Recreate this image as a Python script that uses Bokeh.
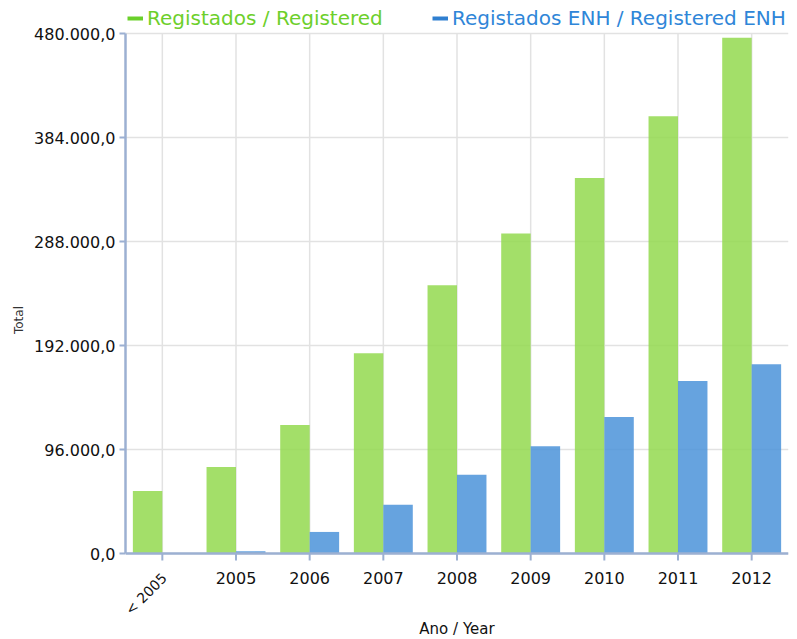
from bokeh.plotting import figure
from bokeh.models import (ColumnDataSource, FixedTicker, CustomJSTickFormatter, Legend,
                          LegendItem, Range1d, FactorRange, Span)
from bokeh.core.properties import value
from bokeh.embed import file_html
from bokeh.resources import INLINE
from bokeh.transform import dodge
import math

# ---- data ----
categories = ["< 2005", "2005", "2006", "2007", "2008", "2009", "2010", "2011", "2012"]
registered = [57800, 79900, 118700, 184900, 247700, 295400, 346700, 403700, 476000]
registered_enh = [0, 2100, 19900, 44900, 72600, 99000, 126100, 159300, 174700]
y_ticks = [0, 96000, 192000, 288000, 384000, 480000]
y_max = 480000
series_names = ["Registados / Registered", "Registados ENH / Registered ENH"]
rotated_labels = ["< 2005"]
flat_labels = ["2005", "2006", "2007", "2008", "2009", "2010", "2011", "2012"]
y_title = "Total"
x_title = "Ano / Year"
x_title_anchor = "2008"

FONT = "DejaVu Sans"
AXIS_COLOR = "#9cb0d2"
GRID_COLOR = "#e2e2e2"
GREEN_BAR = "#93d94f"
BLUE_BAR = "#4b93d9"
GREEN_TXT = "#6dcf2b"
BLUE_TXT = "#2f86d8"
GREEN_KEY = "#6ad02a"
BLUE_KEY = "#2f7fd0"
TXT = "#111111"

# ---- layout (pixels) ----
W, H = 790, 639
BL, BR = 125, 2
TOP_PAD, BOTTOM_PAD = 33, 86          # space kept inside the frame above / below the value axis
plot_px = H - TOP_PAD - BOTTOM_PAD     # pixels used by 0..y_max
u = y_max / plot_px                    # data units per pixel

src = ColumnDataSource(dict(cat=categories, reg=registered, enh=registered_enh))

p = figure(x_range=FactorRange(*categories, range_padding=0),
           y_range=Range1d(-BOTTOM_PAD * u, y_max + TOP_PAD * u),
           width=W, height=H, output_backend="svg", toolbar_location=None,
           x_axis_location=None,
           min_border_left=BL, min_border_right=BR, min_border_top=0, min_border_bottom=0)
p.outline_line_color = None
p.xgrid.visible = False

# vertical grid lines at category centres
p.segment(x0="cat", y0=0, x1="cat", y1=y_max, source=src,
          line_color=GRID_COLOR, line_width=1.5)

# bars
p.vbar(x=dodge("cat", -0.2, range=p.x_range), top="reg", width=0.4, source=src,
       fill_color=GREEN_BAR, fill_alpha=0.85, line_color=None)
p.vbar(x=dodge("cat", 0.2, range=p.x_range), top="enh", width=0.4, source=src,
       fill_color=BLUE_BAR, fill_alpha=0.85, line_color=None)

# horizontal grid
p.ygrid.ticker = FixedTicker(ticks=y_ticks)
p.ygrid.grid_line_color = GRID_COLOR
p.ygrid.grid_line_width = 1.5

# y axis
yax = p.yaxis[0]
yax.bounds = (0, y_max)
yax.ticker = FixedTicker(ticks=y_ticks)
yax.formatter = CustomJSTickFormatter(code="""
const s = Math.round(tick).toString().replace(/\\B(?=(\\d{3})+(?!\\d))/g, ".");
return s + ",0";
""")
yax.major_label_text_font = FONT
yax.major_label_text_font_size = "16px"
yax.major_label_text_color = TXT
yax.major_label_standoff = 4
yax.major_tick_out = 6
yax.major_tick_in = 0
yax.minor_tick_line_color = None
yax.axis_line_color = AXIS_COLOR
yax.axis_line_width = 2.5
yax.major_tick_line_color = AXIS_COLOR
yax.major_tick_line_width = 2
yax.axis_label = y_title
yax.axis_label_text_font = FONT
yax.axis_label_text_font_size = "12px"
yax.axis_label_text_font_style = "normal"
yax.axis_label_text_color = "#333333"
yax.axis_label_standoff = 5

# category axis drawn by hand inside the frame
p.add_layout(Span(location=0, dimension="width", line_color=AXIS_COLOR, line_width=2.5))
p.segment(x0="cat", y0=0, x1="cat", y1=-7 * u, source=src,
          line_color=AXIS_COLOR, line_width=2)
p.text(x=flat_labels, y=[0] * len(flat_labels), text=flat_labels, y_offset=24,
       text_align="center", text_baseline="middle", text_font=value(FONT),
       text_font_size="16px", text_color=TXT)
p.text(x=rotated_labels, y=[0] * len(rotated_labels), text=rotated_labels,
       x_offset=2, y_offset=22, angle=math.pi / 4,
       text_align="right", text_baseline="middle", text_font=value(FONT),
       text_font_size="14px", text_color=TXT)
p.text(x=[x_title_anchor], y=[0], text=[x_title], y_offset=75,
       text_align="center", text_baseline="middle", text_font=value(FONT),
       text_font_size="15px", text_color=TXT)

# legend keys: line renderers holding one empty (NaN) point, so only their legend key shows
l1 = p.line(x=categories[:1], y=[float("nan")], line_color=GREEN_KEY, line_width=4)
l2 = p.line(x=categories[:1], y=[float("nan")], line_color=BLUE_KEY, line_width=4)

def make_legend(r, name, color, loc):
    return Legend(items=[LegendItem(label=name, renderers=[r])], location=loc,
                  orientation="horizontal", background_fill_alpha=0, border_line_alpha=0,
                  padding=0, margin=0, glyph_width=16, glyph_height=20, label_height=20,
                  label_standoff=4, label_text_font=FONT, label_text_font_size="20px",
                  label_text_color=color)

p.add_layout(make_legend(l1, series_names[0], GREEN_TXT, (2, 609)))
p.add_layout(make_legend(l2, series_names[1], BLUE_TXT, (307, 609)))

open("out.html", "w").write(file_html(p, INLINE))
